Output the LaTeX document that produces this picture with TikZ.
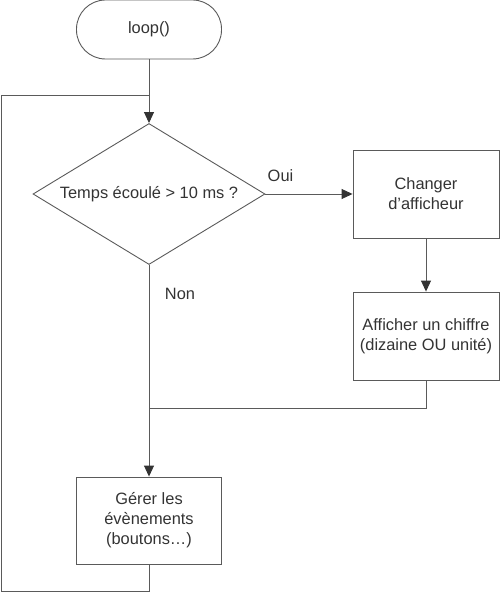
\documentclass[tikz,border=0pt]{standalone}
\usepackage{fontspec}
\setmainfont{Liberation Sans}
\usetikzlibrary{shapes.geometric,arrows.meta}
\definecolor{linec}{HTML}{5A5A5A}
\definecolor{textc}{HTML}{333333}
\definecolor{tipc}{HTML}{333333}
\begin{document}
\begin{tikzpicture}[x=1pt,y=-1pt,
  every node/.style={text=textc,font=\fontsize{16.4}{20}\selectfont},
  box/.style={draw=linec,line width=0.9pt,minimum width=146pt,minimum height=88pt,align=center,inner sep=0pt},
  term/.style={draw=linec,line width=0.9pt,rounded corners=29pt,minimum width=145pt,minimum height=59pt,inner sep=0pt},
  decis/.style={draw=linec,line width=0.9pt,diamond,aspect=1.645,minimum width=232pt,minimum height=141pt,inner sep=0pt},
  conn/.style={draw=linec,line width=0.9pt},
  arr/.style={conn,-{Triangle[length=11pt,width=10pt,fill=tipc,color=tipc]}},
  lbl/.style={inner sep=0pt}]
\useasboundingbox (0,0) rectangle (500,593);
\node[term] (start) at (149,29.5) {loop()};
\node[decis] (dec) at (149,194) {Temps écoulé > 10 ms ?};
\node[box] (chg) at (426,194) {Changer\\d’afficheur};
\node[box] (aff) at (426,336) {Afficher un chiffre\\(dizaine OU unité)};
\node[box,minimum width=145pt,minimum height=87pt] (ger) at (149,520.5) {Gérer les\\évènements\\(boutons…)};
\node[lbl] (oui) at (280.5,176) {Oui};
\node[lbl] (non) at (180,294) {Non};
\coordinate (join) at (149,95);
\coordinate (looptl) at (1.2,95);
\coordinate (loopbl) at (1.2,591);
\coordinate (merge) at (149,408);
\coordinate (affb) at (426,408);
\draw[arr] (start.south) -- (dec.north);
\draw[arr] (dec.east) -- (chg.west);
\draw[arr] (chg.south) -- (aff.north);
\draw[conn] (aff.south) -- (affb) -- (merge);
\draw[arr] (dec.south) -- (ger.north);
\draw[conn] (ger.south) |- (loopbl) -- (looptl) -- (join);
\end{tikzpicture}
\end{document}
